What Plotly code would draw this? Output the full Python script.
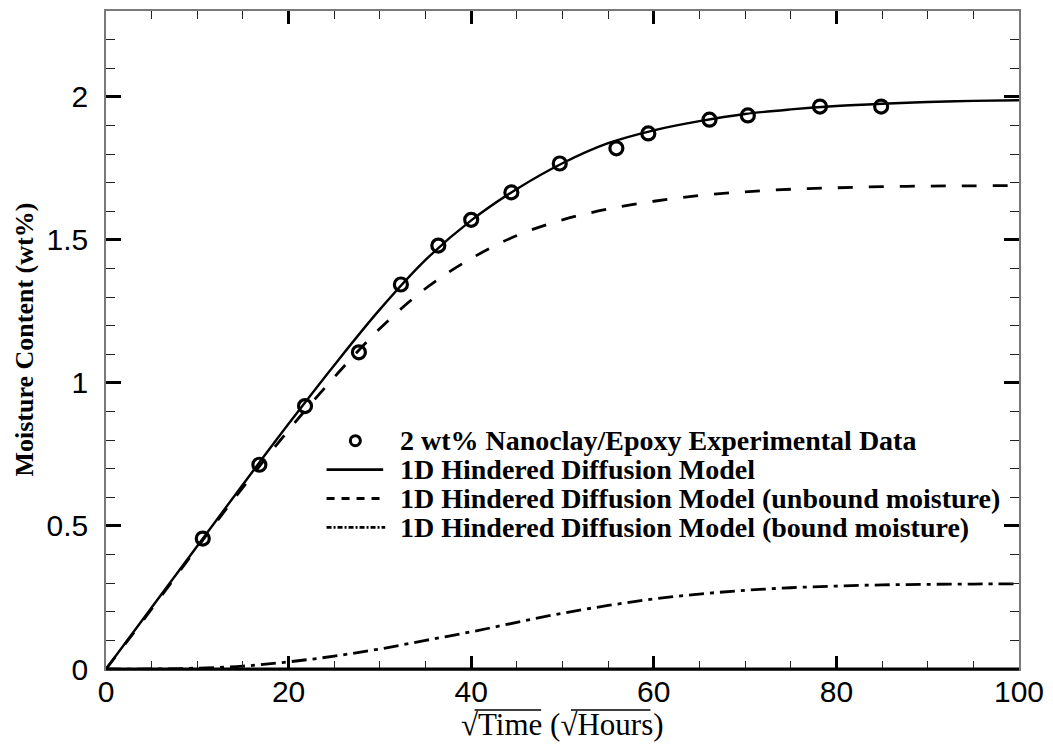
import plotly.graph_objects as go

# Experimental moisture uptake, 2 wt% nanoclay/epoxy
sqrt_time_exp = [10.6, 16.8, 21.8, 27.7, 32.3, 36.4, 40.0, 44.4, 49.7, 55.9, 59.4, 66.1, 70.3, 78.2, 84.9]
moisture_exp = [0.456, 0.714, 0.919, 1.107, 1.344, 1.480, 1.570, 1.666, 1.767, 1.820, 1.872, 1.920, 1.935, 1.966, 1.966]

# Model curves sampled along sqrt(time)
sqrt_time_model = [0, 5, 10, 15, 20, 25, 30, 35, 40, 45, 50, 55, 60, 65, 70, 75, 80, 85, 90, 95, 100]
moisture_total = [0, 0.215, 0.43, 0.645, 0.857, 1.062, 1.257, 1.43, 1.568, 1.678, 1.768, 1.838, 1.883,
                  1.915, 1.94, 1.956, 1.968, 1.976, 1.982, 1.986, 1.988]
moisture_unbound = [0, 0.21, 0.425, 0.635, 0.835, 1.02, 1.19, 1.33, 1.435, 1.515, 1.57, 1.608, 1.635,
                    1.655, 1.668, 1.677, 1.682, 1.686, 1.688, 1.689, 1.69]
moisture_bound = [0, 0.0, 0.003, 0.01, 0.025, 0.045, 0.07, 0.1, 0.13, 0.163, 0.195, 0.222, 0.245,
                  0.262, 0.275, 0.284, 0.29, 0.294, 0.296, 0.297, 0.298]

legend_labels = [
    "2 wt% Nanoclay/Epoxy Experimental Data",
    "1D Hindered Diffusion Model",
    "1D Hindered Diffusion Model (unbound moisture)",
    "1D Hindered Diffusion Model (bound moisture)",
]

x_ticks = [0, 20, 40, 60, 80, 100]
y_ticks = [0, 0.5, 1, 1.5, 2]
y_tick_text = ["0", "0.5", "1", "1.5", "2"]

W, H = 1053, 745
L, R, T, B = 106, 28, 9, 76
PW, PH = W - L - R, H - T - B


def px(xp):
    return (xp - L) / PW


def py(yp):
    return (H - B - yp) / PH


SERIF = "Liberation Serif, Times New Roman, serif"
SANS = "Liberation Sans, Arial, sans-serif"

fig = go.Figure()

fig.add_trace(go.Scatter(x=sqrt_time_model, y=moisture_unbound, mode="lines", line_shape="spline",
                         line=dict(color="black", width=2.8, dash="15px,16px"), showlegend=False))
fig.add_trace(go.Scatter(x=sqrt_time_model, y=moisture_bound, mode="lines", line_shape="spline",
                         line=dict(color="black", width=2.8, dash="15px,6px,4px,6px"), showlegend=False))
fig.add_trace(go.Scatter(x=sqrt_time_model, y=moisture_total, mode="lines", line_shape="spline",
                         line=dict(color="black", width=2.4), showlegend=False))
fig.add_trace(go.Scatter(x=sqrt_time_exp, y=moisture_exp, mode="markers",
                         marker=dict(symbol="circle-open", size=13, color="black", line=dict(width=3.2)),
                         showlegend=False))

# Legend keys and labels
rows_y = [440, 469, 498, 527]
shapes = [
    dict(type="circle", xref="paper", yref="paper", xsizemode="pixel", ysizemode="pixel",
         xanchor=px(357), yanchor=py(rows_y[0]), x0=-5, x1=5, y0=-5, y1=5,
         line=dict(color="black", width=3)),
    dict(type="line", xref="paper", yref="paper", x0=px(328), x1=px(385), y0=py(rows_y[1]), y1=py(rows_y[1]),
         line=dict(color="black", width=2.6)),
    dict(type="line", xref="paper", yref="paper", x0=px(328), x1=px(384), y0=py(rows_y[2]), y1=py(rows_y[2]),
         line=dict(color="black", width=2.8, dash="8px,7px")),
    dict(type="line", xref="paper", yref="paper", x0=px(328), x1=px(387), y0=py(rows_y[3]), y1=py(rows_y[3]),
         line=dict(color="black", width=2.8, dash="5px,2px,2px,2px")),
    # heavy baseline along the bottom of the frame
    dict(type="line", xref="paper", yref="paper", x0=0, x1=1, y0=0, y1=0,
         line=dict(color="black", width=3)),
    # vinculum bars of the square-root signs in the x-axis title
    dict(type="line", xref="paper", yref="paper", x0=px(477), x1=px(544), y0=py(710), y1=py(710),
         line=dict(color="black", width=1.5)),
    dict(type="line", xref="paper", yref="paper", x0=px(574), x1=px(654), y0=py(710), y1=py(710),
         line=dict(color="black", width=1.5)),
]

annotations = []
for label, yr in zip(legend_labels, rows_y):
    annotations.append(dict(text="<b>%s</b>" % label, xref="paper", yref="paper", x=px(400), y=py(yr),
                            xanchor="left", yanchor="middle", showarrow=False,
                            font=dict(family=SERIF, size=28, color="black")))

annotations.append(dict(text="<b>Moisture Content (wt%)</b>", xref="paper", yref="paper",
                        x=px(23), y=0.5, xanchor="center", yanchor="middle", textangle=-90,
                        showarrow=False, font=dict(family=SERIF, size=26, color="black")))
annotations.append(dict(text="√Time (√Hours)",
                        xref="paper", yref="paper", x=px(565), y=py(725), xanchor="center",
                        yanchor="middle", showarrow=False,
                        font=dict(family=SERIF, size=31, color="black")))

fig.update_layout(
    width=W, height=H,
    margin=dict(l=L, r=R, t=T, b=B, pad=0),
    paper_bgcolor="white", plot_bgcolor="white",
    shapes=shapes, annotations=annotations,
    showlegend=False,
)

fig.update_xaxes(
    range=[0, 100], tickmode="array", tickvals=x_ticks,
    ticks="inside", ticklen=13, tickwidth=2.5, tickcolor="black",
    minor=dict(dtick=5, ticks="inside", ticklen=8, tickwidth=1, tickcolor="#222"),
    showline=True, linecolor="#7a7a7a", linewidth=1.5, mirror="ticks",
    showgrid=False, zeroline=False, ticklabelstandoff=-5,
    tickfont=dict(family=SANS, size=30, color="black"),
)
fig.update_yaxes(
    range=[0, 2.3], tickmode="array", tickvals=y_ticks, ticktext=y_tick_text,
    ticks="inside", ticklen=15, tickwidth=3, tickcolor="black",
    minor=dict(dtick=0.1, ticks="inside", ticklen=9, tickwidth=1, tickcolor="#222"),
    showline=True, linecolor="#7a7a7a", linewidth=1.5, mirror="ticks",
    showgrid=False, zeroline=False, ticklabelstandoff=10,
    tickfont=dict(family=SANS, size=30, color="black"),
)

fig.write_html("out.html")
